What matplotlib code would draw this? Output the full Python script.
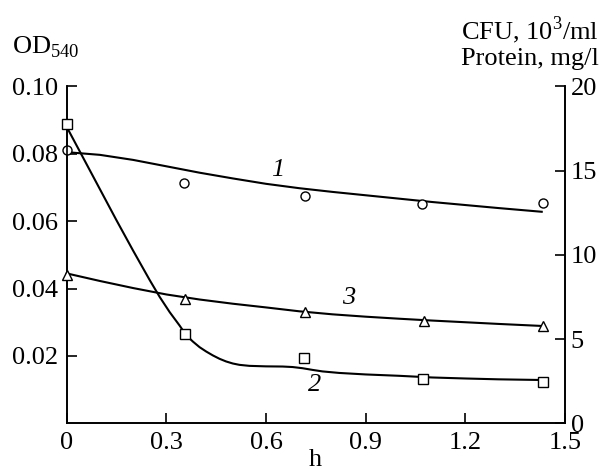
import matplotlib
matplotlib.use("Agg")
import matplotlib.pyplot as plt

plt.rcParams["font.family"] = ["Liberation Serif", "DejaVu Serif"]
plt.rcParams["mathtext.fontset"] = "custom"
plt.rcParams["mathtext.rm"] = "Liberation Serif"

# measured points
circ_x = [0, 0.353, 0.716, 1.071, 1.434]
circ_od = [0.0811, 0.0714, 0.0676, 0.0650, 0.0653]
sq_x = [0, 0.356, 0.713, 1.074, 1.434]
sq_cfu = [17.8, 5.3, 3.86, 2.65, 2.45]
tri_x = [0, 0.357, 0.718, 1.077, 1.434]
tri_prot = [8.8, 7.4, 6.6, 6.09, 5.8]

# fitted curves
fit1_x = [0, 0.1, 0.2, 0.3, 0.4, 0.5, 0.6, 0.7, 0.8, 0.9, 1.0, 1.1, 1.2, 1.3, 1.43]
fit1_y = [0.0805, 0.0797, 0.0782, 0.0763, 0.0744, 0.0727, 0.0711, 0.0698, 0.0687,
          0.0677, 0.0667, 0.0657, 0.0648, 0.0639, 0.0628]
fit2_x = [0, 0.05, 0.1, 0.15, 0.2, 0.25, 0.28, 0.31, 0.34, 0.36, 0.38, 0.40, 0.42,
          0.44, 0.46, 0.48, 0.50, 0.52, 0.55, 0.6, 0.65, 0.68, 0.71, 0.74, 0.77,
          0.82, 0.9, 1.0, 1.1, 1.2, 1.3, 1.43]
fit2_y = [17.6, 15.75, 13.9, 12.05, 10.25, 8.5, 7.5, 6.6, 5.8, 5.22, 4.85, 4.52, 4.26,
          4.03, 3.83, 3.67, 3.55, 3.47, 3.41, 3.38, 3.37, 3.34, 3.27, 3.17, 3.08,
          2.99, 2.9, 2.82, 2.72, 2.66, 2.61, 2.57]
fit3_x = [0, 0.1, 0.2, 0.3, 0.4, 0.5, 0.6, 0.7, 0.8, 0.9, 1.0, 1.1, 1.2, 1.3, 1.43]
fit3_y = [8.9, 8.45, 8.03, 7.65, 7.35, 7.1, 6.88, 6.65, 6.47, 6.33, 6.21, 6.1, 6.0, 5.9, 5.78]

left_ticks = [0.02, 0.04, 0.06, 0.08, 0.10]
right_ticks = [0, 5, 10, 15, 20]
x_ticks = [0, 0.3, 0.6, 0.9, 1.2, 1.5]

fig = plt.figure(figsize=(6.02, 4.70), dpi=100)
ax = fig.add_axes([0.1108, 0.0994, 0.8277, 0.7166])
ax2 = ax.twinx()

fs = 19
lw = 1.5
mk = dict(mfc="white", mec="black", mew=1.0, ls="none", clip_on=False, zorder=5)

ax.plot(fit1_x, fit1_y, color="black", lw=lw, clip_on=False)
ax.plot(circ_x, circ_od, marker="o", ms=6.5, **mk)
ax2.plot(fit2_x, fit2_y, color="black", lw=lw, clip_on=False)
ax2.plot(sq_x, sq_cfu, marker="s", ms=6.5, **mk)
ax2.plot(fit3_x, fit3_y, color="black", lw=lw, clip_on=False)
ax2.plot(tri_x, tri_prot, marker="^", ms=7.5, **mk)

ax.text(0.634, 0.0752, "1", style="italic", fontsize=fs, ha="center", va="center")
ax2.text(0.850, 7.42, "3", style="italic", fontsize=fs, ha="center", va="center")
ax2.text(0.746, 2.27, "2", style="italic", fontsize=fs, ha="center", va="center")

ax.set_xlim(0, 1.5)
ax.set_ylim(0, 0.10)
ax2.set_ylim(0, 20)
ax.set_xticks(x_ticks)
ax.set_xticklabels(["0", "0.3", "0.6", "0.9", "1.2", "1.5"])
ax.set_yticks(left_ticks)
ax.set_yticklabels(["%.2f" % v for v in left_ticks])
ax2.set_yticks(right_ticks)

for a in (ax, ax2):
    a.spines["top"].set_visible(False)
    for s in a.spines.values():
        s.set_linewidth(1.2)
ax.tick_params(axis="both", direction="in", length=7, width=1.2, labelsize=fs, pad=6)
ax2.tick_params(axis="y", direction="in", length=7, width=1.2, labelsize=fs, pad=4)

ax.set_xlabel("h", fontsize=fs, labelpad=-3)
fig.text(0.02, 0.9, r"OD$_{540}$", fontsize=fs, ha="left", va="center")
fig.text(0.995, 0.935, r"CFU, 10$^3$/ml", fontsize=fs, ha="right", va="center")
fig.text(0.995, 0.875, "Protein, mg/l", fontsize=fs, ha="right", va="center")

fig.savefig("out.png", dpi=100)
